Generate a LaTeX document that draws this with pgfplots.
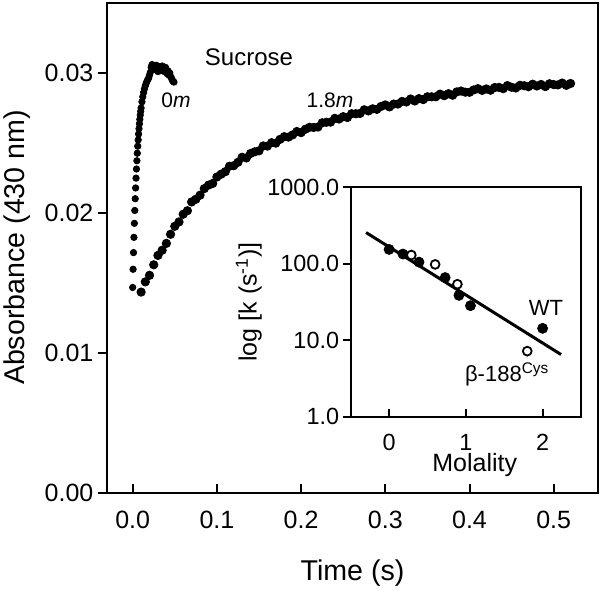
\documentclass[border=0pt]{standalone}
\usepackage{pgfplots}
\pgfplotsset{compat=1.18}
\usepackage{fontspec}
\setmainfont{Liberation Sans}

\begin{document}
\begin{tikzpicture}
\useasboundingbox (0,0) rectangle (300pt,296pt);
% ---------------- main axis ----------------
\begin{axis}[
  at={(53.5pt,49.5pt)}, anchor=south west,
  scale only axis, width=245.5pt, height=245pt,
  xmin=-0.0305, xmax=0.5526, ymin=0, ymax=0.035,
  axis line style={line width=1pt},
  xtick={0,0.1,0.2,0.3,0.4,0.5}, xticklabels={0.0,0.1,0.2,0.3,0.4,0.5},
  ytick={0,0.01,0.02,0.03}, yticklabels={0.00,0.01,0.02,0.03},
  xtick pos=bottom, ytick pos=left,
  tick align=inside, major tick length=4.7pt,
  tick style={line width=1pt, black},
  y tick style={xshift=-4.7pt},
  xticklabel style={font=\fontsize{12.5}{15}\selectfont, yshift=-5.3pt},
  yticklabel style={font=\fontsize{12.5}{15}\selectfont, xshift=-3.3pt},
  clip=false,
]
% 0 m sucrose
\addplot[only marks, mark=*, mark size=1.6pt, black] coordinates {
(0.0000,0.01468) (0.0005,0.01598) (0.0010,0.01717) (0.0015,0.01826) (0.0020,0.01926)
(0.0025,0.02018) (0.0030,0.02102) (0.0035,0.02179) (0.0040,0.02249) (0.0045,0.02314)
(0.0050,0.02373) (0.0055,0.02427) (0.0060,0.02477) (0.0065,0.02522) (0.0070,0.02564)
(0.0075,0.02602) (0.0080,0.02637) (0.0085,0.02669) (0.0090,0.02699) (0.0095,0.02726)
(0.0100,0.02750) (0.0110,0.02794) (0.0120,0.02830) (0.0130,0.02861) (0.0140,0.02887)
(0.0150,0.02908) (0.0160,0.02926) (0.0170,0.02941) (0.0180,0.02954) (0.0190,0.02964)
(0.0200,0.02985) (0.0210,0.03005) (0.0220,0.03040) (0.0230,0.03060) (0.0240,0.03030)
(0.0250,0.03050) (0.0260,0.03025) (0.0270,0.03040) (0.0280,0.03055) (0.0290,0.03035)
(0.0300,0.03010) (0.0310,0.03030) (0.0320,0.03045) (0.0330,0.03020) (0.0340,0.03035)
(0.0350,0.03050) (0.0360,0.03015) (0.0370,0.03030) (0.0380,0.03010) (0.0390,0.03040)
(0.0400,0.03020) (0.0410,0.02995) (0.0420,0.03015) (0.0430,0.02985) (0.0440,0.03000)
(0.0450,0.02975) (0.0460,0.02965) (0.0470,0.02950) (0.0480,0.02940) (0.0490,0.02935)
};
% 1.8 m sucrose
\addplot[only marks, mark=*, mark size=2.1pt, black] coordinates {
(0.010,0.01435) (0.015,0.01508) (0.020,0.01555) (0.025,0.01630) (0.030,0.01697)
(0.035,0.01734) (0.040,0.01783) (0.045,0.01848) (0.050,0.01905) (0.055,0.01936)
(0.060,0.01991) (0.065,0.02016) (0.070,0.02079) (0.075,0.02098) (0.080,0.02127)
(0.085,0.02174) (0.090,0.02199) (0.095,0.02211) (0.100,0.02257) (0.105,0.02277)
(0.110,0.02295) (0.115,0.02334) (0.120,0.02338) (0.125,0.02362) (0.130,0.02398)
(0.135,0.02393) (0.140,0.02425) (0.145,0.02437) (0.150,0.02444) (0.155,0.02479)
(0.160,0.02478) (0.165,0.02502) (0.170,0.02499) (0.175,0.02526) (0.180,0.02545)
(0.185,0.02542) (0.190,0.02558) (0.195,0.02582) (0.200,0.02574) (0.205,0.02598)
(0.210,0.02612) (0.215,0.02611) (0.220,0.02614) (0.225,0.02644) (0.230,0.02648)
(0.235,0.02649) (0.240,0.02676) (0.245,0.02671) (0.250,0.02688) (0.255,0.02682)
(0.260,0.02709) (0.265,0.02709) (0.270,0.02711) (0.275,0.02737) (0.280,0.02729)
(0.285,0.02744) (0.290,0.02740) (0.295,0.02761) (0.300,0.02772) (0.305,0.02758)
(0.310,0.02778) (0.315,0.02778) (0.320,0.02797) (0.325,0.02793) (0.330,0.02814)
(0.335,0.02800) (0.340,0.02817) (0.345,0.02810) (0.350,0.02830) (0.355,0.02830)
(0.360,0.02830) (0.365,0.02849) (0.370,0.02838) (0.375,0.02852) (0.380,0.02841)
(0.385,0.02865) (0.390,0.02871) (0.395,0.02863) (0.400,0.02862) (0.405,0.02879)
(0.410,0.02888) (0.415,0.02876) (0.420,0.02886) (0.425,0.02877) (0.430,0.02896)
(0.435,0.02897) (0.440,0.02888) (0.445,0.02910) (0.450,0.02898) (0.455,0.02893)
(0.460,0.02912) (0.465,0.02909) (0.470,0.02902) (0.475,0.02920) (0.480,0.02907)
(0.485,0.02918) (0.490,0.02903) (0.495,0.02923) (0.500,0.02917) (0.505,0.02915)
(0.510,0.02928) (0.515,0.02912) (0.520,0.02925)
};
\end{axis}
% main labels and annotations
\node[anchor=base, font=\fontsize{14.3}{17}\selectfont] at (176.25pt,5.5pt) {Time (s)};
\node[anchor=base, rotate=90, font=\fontsize{14.3}{17}\selectfont] at (12.5pt,172.25pt) {Absorbance (430 nm)};
\node[font=\fontsize{12}{14}\selectfont] at (124.5pt,267.25pt) {Sucrose};
\node[font=\fontsize{10.5}{12}\selectfont] at (88pt,246pt) {0\textit{m}};
\node[font=\fontsize{10.5}{12}\selectfont] at (165pt,246pt) {1.8\textit{m}};
% ---------------- inset ----------------
\begin{axis}[
  at={(175.35pt,87.65pt)}, anchor=south west,
  scale only axis, width=115.15pt, height=114.7pt,
  ymode=log, xmin=-0.5, xmax=2.5, ymin=1, ymax=1000,
  axis background/.style={fill=white},
  axis line style={line width=1pt},
  xtick={0,1,2}, xticklabels={0,1,2},
  ytick={1,10,100,1000}, yticklabels={1.0,10.0,100.0,1000.0},
  yminorticks=false,
  xtick pos=bottom, ytick pos=left,
  tick align=inside, major tick length=4pt,
  tick style={line width=1pt, black},
  y tick style={xshift=-4pt},
  xticklabel style={font=\fontsize{11.7}{14}\selectfont, yshift=-5.1pt},
  yticklabel style={font=\fontsize{11.7}{14}\selectfont, xshift=-2.3pt},
  clip=false,
]
\addplot[no marks, line width=1.5pt, black] coordinates {(-0.3,256) (2.24,6.5)};
\addplot[only marks, mark=*, mark size=2.5pt, black] coordinates {
(0.0,154) (0.18,134) (0.39,105) (0.73,66) (0.91,38.6) (1.06,28.3) (2.0,14.3)
};
\addplot[only marks, mark=*, mark size=2.2pt, black, line width=0.9pt, mark options={fill=white}] coordinates {
(0.29,130) (0.6,98) (0.89,54) (1.8,7.2)
};
\end{axis}
\node[anchor=base, font=\fontsize{12.5}{15}\selectfont] at (237.35pt,60.15pt) {Molality};
\node[anchor=base, rotate=90, font=\fontsize{12.5}{15}\selectfont] at (128.3pt,145pt) {log [k (s\textsuperscript{-1})]};
\node[font=\fontsize{11}{13}\selectfont] at (273pt,142.15pt) {WT};
\node[anchor=base west, font=\fontsize{11}{13}\selectfont] at (229pt,105.15pt) {β-188\textsuperscript{Cys}};
\end{tikzpicture}
\end{document}
